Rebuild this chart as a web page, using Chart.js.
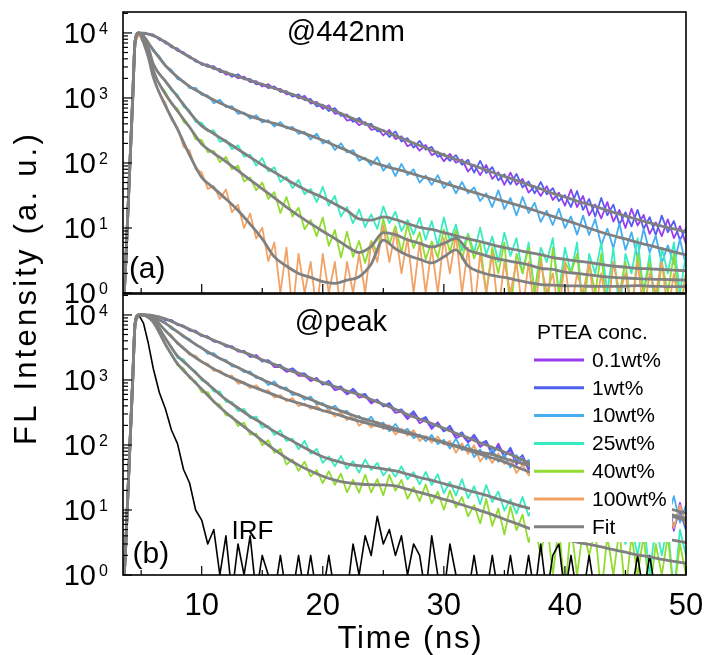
<!DOCTYPE html>
<html lang="en">
<head>
<meta charset="utf-8">
<title>FL decay curves</title>
<script src="https://cdn.jsdelivr.net/npm/chart.js@4.4.1/dist/chart.umd.min.js"></script>
<style>
  html, body { margin: 0; padding: 0; background: #ffffff; }
  #stage { position: relative; width: 705px; height: 655px; }
  #stage canvas { position: absolute; left: 0; top: 0; }
</style>
</head>
<body>
<div id="stage">
  <canvas id="chartA" width="705" height="655"></canvas>
  <canvas id="chartB" width="705" height="655"></canvas>
</div>
<script>
const FONT = '"Liberation Sans", Arial, Helvetica, sans-serif';

// --- axes ---
const xRange = [3.5, 50];
const yRange = [1, 21000];
const xLabelTicks = [10, 20, 30, 40, 50];
const xMarkTicks = [5, 10, 15, 20, 25, 30, 35, 40, 45, 50];
const yLabelPowers = [0, 1, 2, 3, 4];

const seriesLabels = ['0.1wt%', '1wt%', '10wt%', '25wt%', '40wt%', '100wt%'];
const seriesColors = ['#9a3cf0', '#5060ee', '#45aef0', '#38ecc2', '#92dc30', '#f2a265'];
const fitColor = '#808080';
const irfColor = '#000000';

// --- time bases (ns) ---
const dataTime = [3.5, 3.7, 3.9, 4.1, 4.3, 4.5, 4.8, 5.2, 5.6,
  6, 6.5, 7, 7.5, 8, 8.5, 9, 9.5, 10, 10.5,
  11, 11.5, 12, 12.5, 13, 13.5, 14, 14.5, 15, 15.5,
  16, 16.5, 17, 17.5, 18, 18.5, 19, 19.5, 20, 20.5,
  21, 21.5, 22, 22.5, 23, 23.5, 24, 24.5, 25, 25.5,
  26, 26.5, 27, 27.5, 28, 28.5, 29, 29.5, 30, 30.5,
  31, 31.5, 32, 32.5, 33, 33.5, 34, 34.5, 35, 35.5,
  36, 36.5, 37, 37.5, 38, 38.5, 39, 39.5, 40, 40.5,
  41, 41.5, 42, 42.5, 43, 43.5, 44, 44.5, 45, 45.5,
  46, 46.5, 47, 47.5, 48, 48.5, 49, 49.5, 50];

const fitTime = [3.5, 3.7, 3.9, 4.1, 4.3, 4.5, 4.8, 5.2, 5.6, 6,
  7, 8, 9, 10, 11, 12, 13, 14, 15, 16,
  17, 18, 19, 20, 21, 22, 23, 24, 25, 26,
  27, 28, 29, 30, 31, 32, 33, 34, 35, 36,
  37, 38, 39, 40, 41, 42, 43, 44, 45, 46,
  47, 48, 49, 50];

// --- (a) @442nm : measured counts (0.5 = empty channel, below the axis) ---
const aD01 = [0.5, 2, 15, 125, 950, 7200, 9900, 9800, 9550,
  8940, 8415, 6930, 6405, 5290, 5070, 4125, 3895, 3230, 3275,
  2790, 2800, 2285, 2345, 2010, 2135, 1760, 1810, 1500, 1630,
  1366, 1383, 1138, 1157, 987, 1075, 821, 869, 679, 773,
  571, 592, 450, 472, 381, 426, 324, 342, 265, 322,
  233, 258, 181, 203, 155, 189, 132, 149, 106, 138,
  101, 113, 74, 94, 65, 93, 57, 72, 46, 71,
  46, 57, 35, 44, 31, 44, 27, 35, 22, 39,
  21, 31, 15.6, 23, 14, 25, 12.6, 19, 10, 19.8,
  10.9, 15.9, 8.1, 12.2, 7.5, 13.6, 7.0, 10.7, 5.7];
const aD1 = [0.5, 2, 16, 140, 1000, 7300, 10000, 9850, 9500,
  9530, 7855, 7420, 6010, 5775, 4755, 4420, 3636, 3440, 3000,
  3087, 2510, 2548, 2120, 2311, 1928, 1964, 1623, 1659, 1419,
  1512, 1241, 1269, 1046, 1134, 926, 965, 740, 787, 630,
  698, 530, 557, 429, 493, 386, 401, 307, 324, 251,
  306, 214, 241, 172, 219, 160, 177, 124, 139, 108,
  132, 94, 112, 71, 108, 70, 86, 54, 67, 47,
  68, 42, 52, 34, 51, 33, 41, 26, 32, 21,
  37, 19, 28, 15, 29, 15.7, 22.9, 11.4, 17.4, 10.6,
  19, 9.7, 14.7, 7.8, 15.5, 8.6, 12.8, 6.5, 9.9];
const aD10 = [0.5, 2, 17, 135, 1000, 7400, 9950, 9050, 6950,
  5238, 4379, 3098, 2714, 1950, 1823, 1419, 1426, 1113, 1092,
  833, 941, 724, 750, 569, 597, 479, 543, 422, 457,
  363, 426, 339, 359, 279, 300, 230, 282, 199, 222,
  158, 201, 145, 158, 108, 121, 92, 123, 76, 98,
  63, 97, 65, 80, 50, 64, 46, 65, 41, 52,
  34, 51, 34, 42, 26, 34, 21, 38, 19.5, 29,
  15.6, 30, 17, 24.5, 12.4, 18.4, 11.1, 19.8, 10, 15,
  7.9, 15.5, 7.8, 13.7, 5.4, 9.8, 4.9, 11.7, 4.6, 8.6,
  3.5, 9.7, 4.2, 7.6, 2.9, 5.4, 2.8, 6.7, 2.6];
const aD25 = [0.5, 2, 16, 130, 970, 7300, 9900, 8350, 5850,
  3426, 2286, 1864, 1296, 1126, 733, 639, 424, 417, 309,
  318, 211, 226, 163, 188, 125, 134, 91, 119, 74,
  86, 51, 61, 41, 55, 33, 40, 25, 43, 22,
  31, 15, 21, 11.8, 19.4, 10.3, 16.2, 9.7, 21.5, 11.9,
  17.8, 9, 13.3, 8, 14.3, 6.6, 12.8, 5.3, 14.5, 6.2,
  11.3, 4.5, 8.2, 4.2, 10.1, 3.9, 7.4, 3, 8.5, 3.7,
  7, 2, 6, 1, 5, 3, 7, 1, 5, 2,
  6, 0.5, 4, 2, 6, 1, 5, 0.5, 4, 2,
  7, 1, 4, 0.5, 5, 2, 6, 1, 4];
const aD40 = [0.5, 2, 16, 128, 960, 7200, 9800, 7850, 5300,
  2735, 1611, 1242, 811, 683, 427, 368, 230, 227, 147,
  154, 103, 124, 80, 91, 52, 60, 38, 50, 28,
  35.5, 17, 30, 15, 20.4, 9.6, 13.3, 7.5, 14.5, 5.3,
  9.3, 3.5, 8.8, 3.6, 6.3, 2.9, 6.3, 4.2, 13.9, 5.6,
  10.7, 4.2, 11.2, 4.9, 8.6, 3.3, 6.2, 3.5, 9.5, 4.3,
  9.3, 3.3, 7.8, 3.4, 6, 1, 5, 2, 6, 0.5,
  4, 2, 5, 1, 4, 0.5, 5, 1, 3, 2,
  4, 0.5, 3, 1, 4, 0.5, 3, 1, 3, 0.5,
  4, 1, 3, 0.5, 3, 1, 4, 0.5, 2];
const aD100 = [0.5, 2, 15, 120, 930, 7000, 9700, 7000, 4250,
  2140, 1186, 842, 461, 351, 177, 156, 80, 72, 40,
  44, 28, 39, 17.5, 22.8, 10, 16.7, 6.9, 10.1, 3.1,
  6, 1, 5, 0.5, 4, 1, 3, 0.5, 4, 1,
  3, 0.5, 3, 1, 4, 1, 6, 3, 11, 3,
  9, 2, 7, 1, 6, 1, 5, 1, 7, 2,
  8, 1, 5, 0.5, 4, 1, 4, 0.5, 3, 1,
  3, 0.5, 3, 0.5, 3, 1, 2, 0.5, 3, 0.5,
  2, 1, 3, 0.5, 2, 0.5, 3, 1, 2, 0.5,
  3, 0.5, 2, 1, 3, 0.5, 2, 0.5, 2];

// --- (a) fits ---
const aFitLow = [0.5, 2.2, 17, 130, 980, 7400, 10000, 9900, 9600, 9120,
  7240, 5500, 4270, 3390, 2880, 2450, 2140, 1860, 1620, 1410,
  1220, 1050, 890, 760, 630, 525, 440, 370, 313, 263,
  221, 186, 157, 132, 114, 98, 84, 72, 62, 54,
  46, 40, 34, 30, 26, 23, 20, 17.4, 15.3, 13.5,
  12, 10.7, 9.7, 8.7];
const aFit10 = [0.5, 2.2, 17, 130, 980, 7400, 10000, 9000, 7000, 5500,
  3160, 2090, 1510, 1175, 933, 759, 631, 525, 457, 407,
  355, 309, 263, 224, 186, 155, 126, 105, 91, 81,
  72, 63, 56, 49, 43, 37.6, 33, 29, 25.7, 22.6,
  20, 17.4, 15.1, 13.2, 11.5, 9.9, 8.6, 7.6, 6.8, 6.0,
  5.4, 4.8, 4.3, 3.85];
const aFit25 = [0.5, 2.2, 17, 130, 980, 7400, 10000, 8300, 5900, 3310,
  1820, 1050, 603, 372, 282, 214, 162, 123, 93, 72,
  56, 44, 35.5, 29.5, 23.4, 18.6, 13.8, 13.2, 14.8, 13.5,
  11.7, 10.2, 9.5, 8.5, 7.6, 6.8, 6.2, 5.5, 5.0, 4.6,
  4.2, 3.9, 3.5, 3.3, 3.1, 2.95, 2.75, 2.6, 2.5, 2.4,
  2.35, 2.3, 2.25, 2.2];
const aFit40 = [0.5, 2.2, 17, 130, 980, 7400, 10000, 7900, 5250, 2630,
  1150, 630, 355, 195, 141, 105, 76, 55, 40, 29,
  21, 15.5, 11.7, 8.9, 6.9, 5.2, 4.2, 5.2, 8.5, 7.9,
  6.6, 5.8, 5.1, 5.8, 6.9, 4.6, 4.0, 3.5, 3.2, 2.95,
  2.7, 2.4, 2.3, 2.1, 2.0, 1.9, 1.8, 1.74, 1.7, 1.66,
  1.63, 1.62, 1.6, 1.58];
const aFit100 = [0.5, 2.2, 17, 130, 980, 7400, 10000, 7080, 4170, 2090,
  760, 331, 132, 60, 41, 28, 18.6, 11.5, 6.8, 3.6,
  2.6, 2.0, 1.74, 1.5, 1.41, 1.58, 1.78, 2.8, 6.5, 4.8,
  3.8, 3.3, 2.9, 3.6, 4.6, 2.6, 2.1, 1.86, 1.74, 1.58,
  1.45, 1.35, 1.32, 1.29, 1.29, 1.27, 1.26, 1.26, 1.27, 1.3,
  1.27, 1.26, 1.25, 1.26];

// --- (b) @peak : measured counts ---
const bD01 = [0.5, 2, 16, 130, 960, 7300, 9900, 10000, 9950,
  9350, 9358, 8375, 8297, 6995, 6775, 5743, 5712, 4804, 4626,
  3895, 3796, 3298, 3281, 2727, 2766, 2269, 2419, 1977, 1985,
  1575, 1579, 1331, 1414, 1157, 1170, 961, 1075, 844, 894,
  695, 737, 598, 683, 533, 563, 434, 500, 391, 407,
  311, 325, 250, 307, 216, 245, 176, 224, 163, 180,
  126, 143, 109, 133, 93, 111, 70, 105, 68, 83,
  50, 62, 42, 60, 37, 46, 28.5, 43, 27.6, 37,
  18.5, 27, 16.3, 28.8, 14.4, 21.4, 11.1, 21.5, 11.6, 16.8,
  8.5, 12.7, 7.6, 15.8, 6.1, 11.5, 4.8, 12.9, 5.6];
const bD1 = [0.5, 2, 17, 135, 990, 7400, 10000, 9950, 10000,
  9440, 9450, 8295, 8337, 7098, 6841, 5770, 5522, 4712, 4671,
  3932, 3834, 3267, 3297, 2791, 2809, 2285, 2294, 1917, 2015,
  1697, 1703, 1393, 1513, 1258, 1262, 1028, 1044, 857, 972,
  755, 800, 621, 733, 586, 610, 466, 491, 397, 442,
  338, 354, 271, 330, 241, 269, 190, 213, 162, 198,
  138, 157, 113, 144, 104, 116, 76, 95, 66, 91,
  56, 70, 43, 64, 42, 50, 31, 38, 27, 42,
  21, 31, 16.3, 31.5, 17, 24.3, 12.2, 17.9, 10.7, 19.1,
  9.7, 14.5, 7.6, 14.9, 7.6, 13.6, 5.3, 9.7, 4.9];
const bD10 = [0.5, 2, 17, 132, 980, 7350, 9950, 9950, 9800,
  9797, 8157, 7669, 6105, 5583, 4548, 4253, 3430, 3167, 2519,
  2592, 2083, 2038, 1614, 1587, 1316, 1351, 1070, 1061, 832,
  953, 740, 767, 583, 610, 495, 555, 422, 442, 346,
  402, 318, 335, 247, 280, 218, 272, 194, 222, 162,
  210, 157, 178, 127, 145, 114, 143, 103, 120, 88,
  125, 83, 104, 65, 85, 60, 89, 55, 71, 45,
  70, 47, 59, 37, 46, 33, 47, 29, 37, 23.6,
  41, 22.5, 33, 16.7, 24.9, 15, 26.8, 13.5, 20.3, 10.7,
  21, 11.6, 17, 8.5, 12.7, 7.8, 16.3, 6.4, 12];
const bD25 = [0.5, 2, 16, 128, 970, 7300, 9900, 9900, 9400,
  8000, 6594, 4222, 3280, 2167, 2084, 1536, 1362, 979, 903,
  661, 667, 462, 458, 332, 358, 257, 274, 184, 196,
  142, 168, 115, 125, 86, 116, 73, 87, 53, 66.7,
  47, 68, 43, 56.5, 37.4, 60, 41, 52.9, 34, 44.7,
  32.5, 47, 29.7, 38.2, 24.7, 38.4, 24.2, 35.4, 18.1, 27.2,
  16.6, 29.9, 15.2, 23.2, 12.3, 24.2, 13.3, 19.3, 9.8, 14.6,
  8.8, 15.9, 8.1, 12.4, 5.6, 15.3, 6.7, 11.9, 4.9, 8.7,
  4.5, 10.8, 4.3, 8.1, 3.4, 9.4, 4.1, 7.5, 3, 5.6,
  2, 7, 1, 6, 2, 6, 0.5, 5, 2];
const bD40 = [0.5, 2, 16, 126, 950, 7200, 9850, 9800, 9150,
  7608, 5434, 3397, 2570, 1673, 1512, 1061, 954, 646, 652,
  447, 417, 285, 280, 196, 221, 144, 150, 99, 118,
  76, 87, 50, 60, 40, 55, 33, 41, 26, 39.6,
  24.4, 36.2, 18.7, 29.2, 18.5, 34.8, 18.6, 29.9, 16.8, 34.7,
  19.8, 29.1, 14.9, 22.4, 13.7, 24.7, 12.6, 19.1, 10.1, 19.9,
  10.9, 15.8, 8, 11.9, 6.2, 14.8, 5.7, 10.5, 4.2, 11.4,
  4.9, 8.5, 3.2, 5.9, 2, 7, 1, 6, 0.5, 6,
  1, 5, 2, 5, 0.5, 4, 1, 5, 0.5, 4,
  1, 4, 0.5, 3, 1, 4, 0.5, 3, 1];
const bD100 = [0.5, 2, 15, 122, 940, 7100, 9800, 9900, 9600,
  8530, 7411, 5610, 4862, 3543, 3152, 2434, 2369, 1865, 1788,
  1381, 1404, 1144, 1166, 872, 934, 750, 831, 668, 699,
  532, 589, 473, 528, 395, 435, 359, 402, 327, 351,
  273, 318, 241, 291, 197, 236, 185, 229, 176, 202,
  145, 179, 139, 169, 115, 138, 109, 134, 102, 116,
  76, 106, 73, 99, 56, 74, 53, 74, 51, 61,
  37, 50, 34, 46, 26.6, 35.6, 22.4, 38.6, 22.6, 32.6,
  15.9, 27.6, 15.8, 26.4, 11.7, 18.8, 11.3, 19.4, 11.3, 16.3,
  8, 13.8, 7.3, 15.6, 5.1, 10.5, 5.3, 11.9, 5.7];
const bIRF = [0.5, 3, 28, 220, 1600, 8200, 10000, 7400, 3600,
  1500, 640, 360, 170, 105, 42, 26, 10, 7, 3,
  5, 1, 4, 0.5, 3, 1, 4, 0.5, 2, 1,
  0.5, 2, 0.5, 0.5, 2, 0.5, 2, 0.5, 0.5, 2,
  0.5, 0.5, 0.5, 3, 1, 4, 2, 8, 3, 5,
  2, 4, 1, 3, 2, 0.5, 4, 1, 0.5, 3,
  1, 0.5, 0.5, 2, 0.5, 0.5, 2, 0.5, 0.5, 2,
  0.5, 0.5, 2, 0.5, 3, 0.5, 2, 3, 0.5, 2,
  0.5, 0.5, 2, 0.5, 0.5, 0.5, 0.5, 0.5, 0.5, 0.5,
  2, 0.5, 2, 0.5, 0.5, 0.5, 0.5, 0.5, 0.5];

// --- (b) fits ---
const bFitLow = [0.5, 2.2, 17, 130, 980, 7400, 10000, 10000, 10000, 9770,
  8710, 7240, 6030, 4900, 4070, 3430, 2880, 2450, 2040, 1740,
  1460, 1260, 1070, 912, 794, 676, 596, 501, 422, 355,
  295, 251, 214, 180, 151, 129, 108, 92, 78, 65,
  53, 45, 37.6, 31.6, 26.9, 22.9, 19.5, 16.6, 14.1, 12.3,
  10.7, 9.3, 8.3, 7.4];
const bFit10 = [0.5, 2.2, 17, 130, 980, 7400, 10000, 10000, 9800, 9330,
  7410, 5500, 4070, 3090, 2400, 1930, 1550, 1260, 1020, 851,
  708, 589, 501, 417, 359, 309, 266, 234, 204, 178,
  158, 138, 123, 110, 98, 87, 78, 71, 62, 55,
  49, 42.7, 37.2, 32.4, 28.2, 25.1, 21.9, 19.1, 16.6, 14.5,
  12.9, 11.2, 10, 8.9];
const bFit25 = [0.5, 2.2, 17, 130, 980, 7400, 10000, 9900, 9300, 8320,
  4370, 2340, 1585, 1050, 724, 501, 372, 275, 214, 162,
  129, 102, 81, 66, 57.5, 51.3, 47.9, 45.7, 42.7, 39.8,
  35.5, 31.6, 28.5, 25.4, 22.6, 20, 17.8, 15.7, 13.8, 12,
  10.7, 9.5, 8.5, 7.6, 6.9, 6.3, 5.75, 5.25, 4.8, 4.4,
  4.0, 3.7, 3.4, 3.16];
const bFit40 = [0.5, 2.2, 17, 130, 980, 7400, 10000, 9900, 9100, 7760,
  3550, 1780, 1120, 724, 468, 316, 224, 162, 117, 85,
  63, 49, 39.8, 33.1, 28.8, 26.3, 25.1, 24.5, 24.3, 23.4,
  20.9, 18.6, 16.6, 14.6, 12.9, 11.2, 9.8, 8.5, 7.2, 6.2,
  5.25, 4.6, 4.1, 3.6, 3.2, 2.95, 2.7, 2.45, 2.24, 2.04,
  1.9, 1.74, 1.62, 1.51];
const bFit100 = [0.5, 2.2, 17, 130, 980, 7400, 10000, 10000, 9700, 8910,
  5750, 3720, 2570, 1910, 1480, 1190, 977, 813, 692, 589,
  501, 442, 389, 339, 302, 263, 232, 209, 186, 168,
  151, 136, 123, 107, 95, 83, 72, 63, 55, 46,
  39, 34, 29.5, 25.7, 22.4, 19.5, 17, 14.8, 12.9, 11.2,
  9.8, 8.7, 7.8, 6.9];

// --- helpers ---
function toPoints(times, values) {
  if (times.length !== values.length) console.warn('length mismatch', times.length, values.length);
  const n = Math.min(times.length, values.length);
  return values.slice(0, n).map((v, i) => ({ x: times[i], y: v }));
}

function buildDatasets(measured, fits, irf) {
  const sets = [];
  measured.forEach((vals, i) => {
    sets.push({
      label: seriesLabels[i],
      data: toPoints(dataTime, vals),
      borderColor: seriesColors[i],
      borderWidth: 1.8,
      borderJoinStyle: 'round',
      pointRadius: 0,
      order: 10 - i
    });
  });
  if (irf) {
    sets.push({
      label: 'IRF', data: toPoints(dataTime, irf), borderColor: irfColor,
      borderWidth: 1.6, borderJoinStyle: 'round', pointRadius: 0, order: 2
    });
  }
  fits.forEach(vals => {
    sets.push({
      label: 'Fit', data: toPoints(fitTime, vals), borderColor: fitColor,
      borderWidth: 2.8, pointRadius: 0, cubicInterpolationMode: 'monotone', order: 1
    });
  });
  return sets;
}

function strokeLine(ctx, x1, y1, x2, y2) {
  ctx.beginPath(); ctx.moveTo(x1, y1); ctx.lineTo(x2, y2); ctx.stroke();
}

function drawLegend(ctx, area) {
  const boxL = area.right - 156, boxT = area.top + 16;
  ctx.fillStyle = '#ffffff';
  ctx.fillRect(boxL, boxT, 142, 232);
  ctx.fillStyle = '#000';
  ctx.font = `21px ${FONT}`;
  ctx.textAlign = 'left';
  ctx.textBaseline = 'middle';
  ctx.fillText('PTEA conc.', boxL + 7, boxT + 23);
  const entries = seriesLabels.map((l, i) => ({ label: l, color: seriesColors[i] }))
    .concat([{ label: 'Fit', color: fitColor }]);
  entries.forEach((e, i) => {
    const cy = boxT + 50 + i * 27.8;
    ctx.strokeStyle = e.color;
    ctx.lineWidth = 3;
    strokeLine(ctx, boxL + 4, cy, boxL + 54, cy);
    ctx.fillStyle = '#000';
    ctx.fillText(e.label, boxL + 62, cy + 1);
  });
}

function spacedText(ctx, text, x, y, spacing) {
  if ('letterSpacing' in ctx) ctx.letterSpacing = spacing + 'px';
  ctx.fillText(text, x, y);
  if ('letterSpacing' in ctx) ctx.letterSpacing = '0px';
}

// frame, inward ticks, y labels, notes, legend, axis titles
const panelDeco = {
  id: 'panelDeco',
  afterDatasetsDraw(chart, args, opts) {
    const ctx = chart.ctx;
    const area = chart.chartArea;
    const xs = chart.scales.x, ys = chart.scales.y;
    ctx.save();

    if (opts.legend) drawLegend(ctx, area);

    ctx.strokeStyle = '#000';
    ctx.lineWidth = 1.6;
    ctx.strokeRect(area.left, area.top, area.right - area.left, area.bottom - area.top);

    ctx.lineWidth = 1.2;
    xMarkTicks.forEach(v => {
      const px = xs.getPixelForValue(v);
      const len = v % 10 === 0 ? 9 : 5;
      strokeLine(ctx, px, area.bottom, px, area.bottom - len);
    });
    for (let e = 0; e <= 4; e++) {
      for (let m = 1; m <= 9; m++) {
        const v = m * Math.pow(10, e);
        if (v > ys.max) continue;
        const py = ys.getPixelForValue(v);
        strokeLine(ctx, area.left, py, area.left + (m === 1 ? 9 : 5), py);
      }
    }

    ctx.fillStyle = '#000';
    ctx.textBaseline = 'alphabetic';
    yLabelPowers.forEach(p => {
      const py = ys.getPixelForValue(Math.pow(10, p));
      ctx.font = `29px ${FONT}`;
      ctx.textAlign = 'right';
      ctx.fillText('10', area.left - 27, py + 10.4);
      ctx.font = `16px ${FONT}`;
      ctx.textAlign = 'left';
      ctx.fillText(String(p), area.left - 24, py + 1);
    });

    ctx.textAlign = 'center';
    ctx.textBaseline = 'middle';
    (opts.notes || []).forEach(n => {
      ctx.font = `${n.size}px ${FONT}`;
      ctx.fillText(n.text, xs.getPixelForValue(n.t), ys.getPixelForValue(n.v));
    });

    if (opts.xTitle) {
      ctx.font = `31px ${FONT}`;
      ctx.textBaseline = 'alphabetic';
      spacedText(ctx, opts.xTitle, (area.left + area.right) / 2 + 6, 648, 1.8);
    }
    if (opts.yTitle) {
      ctx.save();
      ctx.translate(27, 288);
      ctx.rotate(-Math.PI / 2);
      ctx.font = `31px ${FONT}`;
      ctx.textBaseline = 'middle';
      spacedText(ctx, opts.yTitle, 0, 0, 3.2);
      ctx.restore();
    }
    ctx.restore();
  }
};

function panelOptions(padding, deco, showX) {
  const xScale = {
    type: 'linear', min: xRange[0], max: xRange[1], display: showX,
    grid: { display: false, drawTicks: false },
    border: { display: false },
    ticks: { color: '#000', font: { family: FONT, size: 31 }, padding: 13, maxRotation: 0, autoSkip: false },
    afterBuildTicks: s => { s.ticks = xLabelTicks.map(v => ({ value: v })); }
  };
  if (showX) {
    xScale.afterFit = s => {
      s.height = 80;
      // keep the plot edges where the frame is; the end labels may overhang
      s.paddingLeft = 0;
      s.paddingRight = 0;
    };
  }
  return {
    responsive: false,
    animation: false,
    devicePixelRatio: 1,
    events: [],
    layout: { padding },
    plugins: { legend: { display: false }, tooltip: { enabled: false }, panelDeco: deco },
    scales: {
      x: xScale,
      y: { type: 'logarithmic', min: yRange[0], max: yRange[1], display: false }
    }
  };
}

new Chart(document.getElementById('chartA'), {
  type: 'line',
  data: { datasets: buildDatasets([aD01, aD1, aD10, aD25, aD40, aD100], [aFitLow, aFit10, aFit25, aFit40, aFit100], null) },
  options: panelOptions({ left: 123, right: 19, top: 12, bottom: 362 }, {
    notes: [
      { text: '@442nm', t: 21.9, v: 10000, size: 29 },
      { text: '(a)', t: 5.5, v: 2.26, size: 30 }
    ]
  }, false),
  plugins: [panelDeco]
});

new Chart(document.getElementById('chartB'), {
  type: 'line',
  data: { datasets: buildDatasets([bD01, bD1, bD10, bD25, bD40, bD100], [bFitLow, bFit10, bFit25, bFit40, bFit100], bIRF) },
  options: panelOptions({ left: 123, right: 19, top: 294, bottom: 0 }, {
    notes: [
      { text: '@peak', t: 21.5, v: 7540, size: 29 },
      { text: '(b)', t: 5.8, v: 2.04, size: 30 },
      { text: 'IRF', t: 14.2, v: 4.6, size: 26 }
    ],
    legend: true,
    xTitle: 'Time (ns)',
    yTitle: 'FL Intensity (a. u.)'
  }, true),
  plugins: [panelDeco]
});
</script>
</body>
</html>
